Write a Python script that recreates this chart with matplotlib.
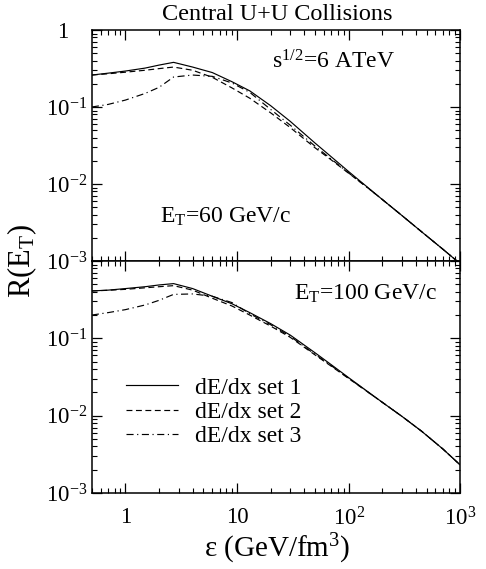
import numpy as np
import matplotlib
matplotlib.use("Agg")
import matplotlib.pyplot as plt
from matplotlib.ticker import FixedLocator, LogLocator, NullFormatter

plt.rcParams['font.family'] = ['Liberation Serif', 'DejaVu Serif']
plt.rcParams['mathtext.fontset'] = 'custom'
plt.rcParams['mathtext.rm'] = 'Liberation Serif'
plt.rcParams['mathtext.it'] = 'Liberation Serif:italic'

# energy density grid (GeV/fm^3)
eps = [0.5, 0.7, 1, 1.5, 2, 2.7, 4, 6, 9, 13, 20, 30, 50, 70, 100, 150, 200, 300, 450, 700, 1000]

# E_T = 60 GeV/c (upper panel)
r60_set1 = [0.26, 0.275, 0.293, 0.32, 0.35, 0.38, 0.33, 0.28, 0.213, 0.162, 0.104, 0.065,
            0.034, 0.0225, 0.0145, 0.0089, 0.0063, 0.0039, 0.0024, 0.00142, 0.00092]
r60_set2 = [0.26, 0.27, 0.283, 0.30, 0.315, 0.33, 0.30, 0.243, 0.177, 0.13, 0.084, 0.054,
            0.0295, 0.0205, 0.0138, 0.0088, 0.0063, 0.0039, 0.0024, 0.00142, 0.00092]
r60_set3 = [0.10, 0.108, 0.123, 0.15, 0.18, 0.245, 0.26, 0.25, 0.205, 0.155, 0.093, 0.058,
            0.031, 0.021, 0.0139, 0.0088, 0.0063, 0.0039, 0.0024, 0.00142, 0.00092]

# E_T = 100 GeV/c (lower panel)
r100_set1 = [0.41, 0.42, 0.44, 0.465, 0.49, 0.51, 0.44, 0.35, 0.28, 0.215, 0.155, 0.11,
             0.065, 0.0455, 0.031, 0.0202, 0.0149, 0.0098, 0.0063, 0.0037, 0.0023]
r100_set2 = [0.41, 0.418, 0.43, 0.45, 0.465, 0.48, 0.42, 0.33, 0.262, 0.2, 0.144, 0.103,
             0.061, 0.0435, 0.0302, 0.0200, 0.0149, 0.0098, 0.0063, 0.0037, 0.0023]
r100_set3 = [0.20, 0.215, 0.235, 0.27, 0.31, 0.37, 0.375, 0.35, 0.29, 0.208, 0.15, 0.106,
             0.062, 0.0442, 0.0305, 0.0200, 0.0149, 0.0098, 0.0063, 0.0037, 0.0023]

labels = ["dE/dx set 1", "dE/dx set 2", "dE/dx set 3"]
ytick_vals = [1e-3, 1e-2, 1e-1, 1]
ytick_text = [r"$10^{-3}$", r"$10^{-2}$", r"$10^{-1}$", "1   "]
xtick_vals = [1, 10, 100, 1000]
xtick_text = ["1", "10", r"$10^{2}$", r"$10^{3}$"]

styles = [dict(ls='-'), dict(ls=(0, (5, 3))), dict(ls=(0, (6, 3, 1, 3)))]

fig = plt.figure(figsize=(4.86, 5.69), dpi=100)
ax1 = fig.add_axes([0.189, 0.5413, 0.758, 0.406])
ax2 = fig.add_axes([0.189, 0.1336, 0.758, 0.4077])

for ax, ys in [(ax1, [r60_set1, r60_set2, r60_set3]),
               (ax2, [r100_set1, r100_set2, r100_set3])]:
    for y, st, lab in zip(ys, styles, labels):
        ax.plot(eps, y, color='black', lw=0.85, label=lab, **st)
    ax.set_xscale('log')
    ax.set_yscale('log')
    ax.set_xlim(0.5, 1000)
    ax.set_ylim(1e-3, 1)
    ax.xaxis.set_major_locator(FixedLocator(xtick_vals))
    ax.xaxis.set_minor_locator(LogLocator(base=10, subs=np.arange(2, 10)))
    ax.yaxis.set_minor_locator(LogLocator(base=10, subs=np.arange(2, 10)))
    ax.xaxis.set_minor_formatter(NullFormatter())
    ax.yaxis.set_minor_formatter(NullFormatter())
    ax.tick_params(which='both', direction='in', top=True, right=True, labelsize=16.5)
    ax.tick_params(which='major', length=7, width=0.9)
    ax.tick_params(which='minor', length=3.5, width=0.8)
    ax.tick_params(axis='x', pad=10)
    for sp in ax.spines.values():
        sp.set_linewidth(1.1)

ax1.set_yticks(ytick_vals, ytick_text)
ax1.set_xticks(xtick_vals, [""] * 4)
ax2.set_yticks(ytick_vals, ytick_text[:3] + [""])
ax2.set_xticks(xtick_vals, xtick_text)

ax1.text(0.655, 0.86, r"s$^{1/2}$=6 ATeV", transform=ax1.transAxes, fontsize=17,
         ha='center', va='center')
ax1.text(0.364, 0.19, r"E$_\mathrm{T}$=60 GeV/c", transform=ax1.transAxes, fontsize=17,
         ha='center', va='center')
ax2.text(0.742, 0.86, r"E$_\mathrm{T}$=100 GeV/c", transform=ax2.transAxes, fontsize=17,
         ha='center', va='center')

ax2.legend(loc='upper left', bbox_to_anchor=(0.092, 0.50), frameon=False, fontsize=17,
           handlelength=2.2, handletextpad=0.75, labelspacing=0.12, borderpad=0,
           borderaxespad=0)

fig.text(0.57, 0.974, "Central U+U Collisions", fontsize=17.5, ha='center', va='center')
fig.text(0.045, 0.541, r"R(E$_\mathrm{T}$)", fontsize=22, rotation=90,
         ha='center', va='center')
fig.text(0.57, 0.036, r"ε (GeV/fm$^{3}$)", fontsize=21, ha='center', va='center')

fig.savefig("out.png", dpi=100)
